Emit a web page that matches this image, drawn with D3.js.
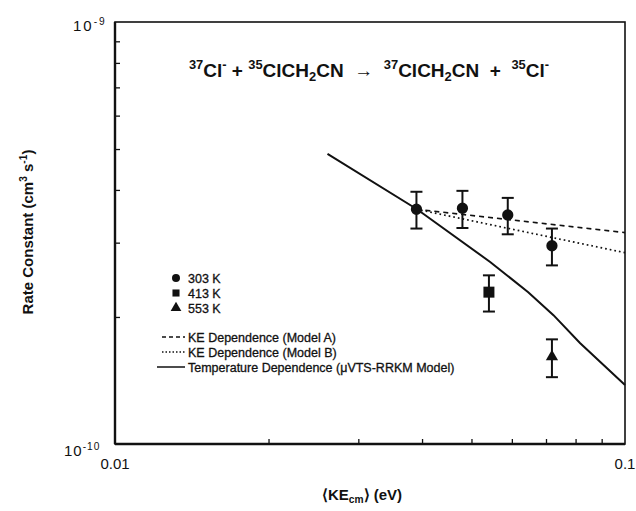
<!DOCTYPE html>
<html><head><meta charset="utf-8">
<script src="https://cdn.jsdelivr.net/npm/d3@7"></script>
<style>body{margin:0;background:#fff}svg{display:block}text{font-family:"Liberation Sans",Arial,sans-serif;fill:#111}</style>
</head><body><svg id="c" width="636" height="511"></svg>
<script>
// ---- data ----
const tempLabels = ["303 K", "413 K", "553 K"];
const pointTemp = [303, 303, 303, 303, 413, 553];
const pointKE = [0.0390, 0.0480, 0.0589, 0.0719, 0.0541, 0.0719];
const pointK = [3.60e-10, 3.62e-10, 3.49e-10, 2.95e-10, 2.29e-10, 1.61e-10];
const pointKHi = [3.96e-10, 3.98e-10, 3.83e-10, 3.24e-10, 2.51e-10, 1.77e-10];
const pointKLo = [3.24e-10, 3.25e-10, 3.14e-10, 2.65e-10, 2.06e-10, 1.44e-10];
const modelAKE = [0.0390, 0.1];
const modelAK = [3.60e-10, 3.17e-10];
const modelBKE = [0.0390, 0.1];
const modelBK = [3.60e-10, 2.84e-10];
const tempDepKE = [0.0261, 0.0391, 0.0544, 0.0646, 0.0724, 0.0816, 0.1];
const tempDepK = [4.87e-10, 3.60e-10, 2.70e-10, 2.29e-10, 2.02e-10, 1.735e-10, 1.38e-10];
const lineLabels = ["KE Dependence (Model A)", "KE Dependence (Model B)", "Temperature Dependence (\u03BCVTS-RRKM Model)"];
const xMinorTicks = [0.02, 0.03, 0.04, 0.05, 0.06, 0.07, 0.08, 0.09];
const yMinorTicks = [2e-10, 3e-10, 4e-10, 5e-10, 6e-10, 7e-10, 8e-10, 9e-10];

// ---- layout ----
const L = 115, R = 625, T = 22, B = 444;
const svg = d3.select("#c");
const x = d3.scaleLog().domain([0.01, 0.1]).range([L, R]);
const y = d3.scaleLog().domain([1e-10, 1e-9]).range([B, T]);

// ticks (inward)
svg.append("g").attr("transform", `translate(0,${B})`)
  .call(d3.axisBottom(x).tickValues(xMinorTicks).tickSize(-5).tickFormat(""))
  .call(g => { g.select(".domain").remove(); g.selectAll("line").attr("stroke", "#111").attr("stroke-width", 1.3); });
svg.append("g").attr("transform", `translate(${L},0)`)
  .call(d3.axisLeft(y).tickValues(yMinorTicks).tickSize(-5).tickFormat(""))
  .call(g => { g.select(".domain").remove(); g.selectAll("line").attr("stroke", "#111").attr("stroke-width", 1.3); });

// frame
svg.append("rect").attr("x", L).attr("y", T).attr("width", R - L).attr("height", B - T)
  .attr("fill", "none").attr("stroke", "#111").attr("stroke-width", 1.6);
svg.append("line").attr("x1", L).attr("x2", L).attr("y1", T).attr("y2", B).attr("stroke", "#111").attr("stroke-width", 2.4);
svg.append("line").attr("x1", L).attr("x2", R).attr("y1", B).attr("y2", B).attr("stroke", "#111").attr("stroke-width", 2.4);

// rich text helper
function rich(sel, parts, size) {
  parts.forEach(p => {
    const t = sel.append("tspan").text(p[0]);
    if (p[1] === "sup") t.attr("font-size", size * 0.68).attr("baseline-shift", size * 0.42);
    else if (p[1] === "sub") t.attr("font-size", size * 0.68).attr("baseline-shift", -size * 0.22);
  });
  return sel;
}

// axis tick labels
const tl = 15;
rich(svg.append("text").attr("x", 73).attr("y", 31).attr("font-size", tl).attr("letter-spacing", 2), [["10"], ["-9", "sup"]], tl);
rich(svg.append("text").attr("x", 64).attr("y", 456).attr("font-size", tl).attr("letter-spacing", 1), [["10"], ["-10", "sup"]], tl);
svg.append("text").attr("x", x(0.01)).attr("y", 469).attr("font-size", tl).attr("text-anchor", "middle").text("0.01");
svg.append("text").attr("x", x(0.1)).attr("y", 469).attr("font-size", tl).attr("text-anchor", "middle").text("0.1");

// axis titles
rich(svg.append("text").attr("x", 362).attr("y", 500).attr("font-size", 15).attr("font-weight", "bold").attr("text-anchor", "middle"),
  [["\u27E8KE"], ["cm", "sub"], ["\u27E9 (eV)"]], 15);
rich(svg.append("text").attr("transform", "translate(33,232) rotate(-90)").attr("font-size", 15).attr("font-weight", "bold").attr("text-anchor", "middle"),
  [["Rate Constant (cm"], ["3", "sup"], [" s"], ["-1", "sup"], [")"]], 15);

// title
const sp = "\u00A0\u00A0";
rich(svg.append("text").attr("x", 369).attr("y", 77).attr("font-size", 19).attr("font-weight", "bold").attr("text-anchor", "middle"),
  [["37", "sup"], ["Cl"], ["-", "sup"], [" + "], ["35", "sup"], ["ClCH"], ["2", "sub"], ["CN" + sp + "\u2192" + sp], ["37", "sup"], ["ClCH"], ["2", "sub"], ["CN" + sp + "+" + sp], ["35", "sup"], ["Cl"], ["-", "sup"]], 19);

// lines
const line = d3.line().x(d => x(d[0])).y(d => y(d[1]));
svg.append("path").datum(d3.zip(tempDepKE, tempDepK)).attr("d", line).attr("fill", "none").attr("stroke", "#111").attr("stroke-width", 2);
svg.append("path").datum(d3.zip(modelAKE, modelAK)).attr("d", line).attr("fill", "none").attr("stroke", "#111").attr("stroke-width", 1.7).attr("stroke-dasharray", "5,4");
svg.append("path").datum(d3.zip(modelBKE, modelBK)).attr("d", line).attr("fill", "none").attr("stroke", "#111").attr("stroke-width", 1.7).attr("stroke-dasharray", "1.7,3");

// symbols
const symOf = {303: d3.symbolCircle, 413: d3.symbolSquare, 553: d3.symbolTriangle};
const sizeOf = {303: 100, 413: 121, 553: 65};
const pts = pointKE.map((v, i) => ({ke: v, k: pointK[i], hi: pointKHi[i], lo: pointKLo[i], t: pointTemp[i]}));
const eb = svg.append("g").attr("stroke", "#111").attr("stroke-width", 2);
pts.forEach(p => {
  const cx = x(p.ke);
  eb.append("line").attr("x1", cx).attr("x2", cx).attr("y1", y(p.hi)).attr("y2", y(p.lo));
  eb.append("line").attr("x1", cx - 6).attr("x2", cx + 6).attr("y1", y(p.hi)).attr("y2", y(p.hi));
  eb.append("line").attr("x1", cx - 6).attr("x2", cx + 6).attr("y1", y(p.lo)).attr("y2", y(p.lo));
});
svg.append("g").selectAll("path").data(pts).join("path")
  .attr("transform", d => `translate(${x(d.ke)},${y(d.k)})`)
  .attr("d", d => d3.symbol().type(symOf[d.t]).size(sizeOf[d.t])())
  .attr("fill", "#111");

// legend: symbols
const legTemps = [303, 413, 553];
const lg = svg.append("g");
legTemps.forEach((t, i) => {
  const yy = 278 + i * 15;
  lg.append("path").attr("transform", `translate(176,${yy})`).attr("d", d3.symbol().type(symOf[t]).size(50)()).attr("fill", "#111");
  lg.append("text").attr("x", 188).attr("y", yy + 4.5).attr("font-size", 12.5)
    .attr("stroke", "#111").attr("stroke-width", 0.3).text(tempLabels[i]);
});
// legend: lines
const dashes = ["4,3", "1.5,2", null];
lineLabels.forEach((lab, i) => {
  const yy = 337 + i * 15;
  const l = lg.append("line").attr("x1", i === 2 ? 157 : 162).attr("x2", 185).attr("y1", yy).attr("y2", yy).attr("stroke", "#111").attr("stroke-width", 1.5);
  if (dashes[i]) l.attr("stroke-dasharray", dashes[i]);
  lg.append("text").attr("x", 188).attr("y", yy + 4.5).attr("font-size", 12.5)
    .attr("stroke", "#111").attr("stroke-width", 0.3).text(lab);
});
</script></body></html>
